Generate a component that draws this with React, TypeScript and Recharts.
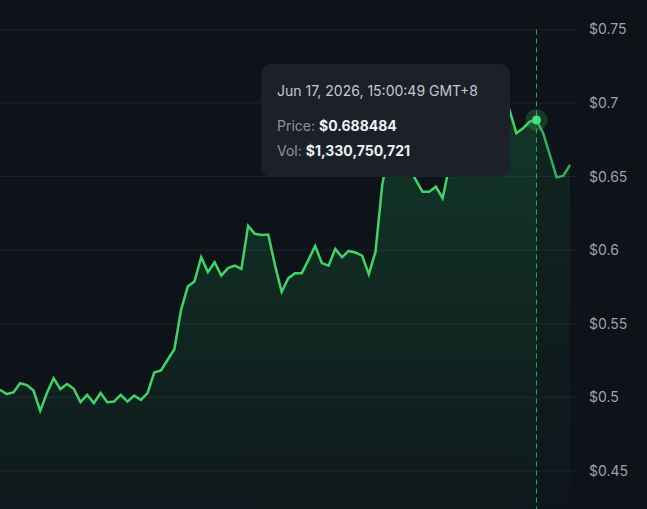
import { Area, AreaChart, CartesianGrid, Tooltip, XAxis, YAxis } from 'recharts'

// price per sample (hidden points under the tooltip are estimates)
const prices = [
  0.5051, 0.5022, 0.5033, 0.5096, 0.5083, 0.5046, 0.4908, 0.5029, 0.513, 0.5056,
  0.509, 0.5058, 0.4967, 0.5017, 0.4961, 0.5029, 0.4967, 0.4971, 0.5017, 0.4971,
  0.5012, 0.4983, 0.5029, 0.5168, 0.5182, 0.5255, 0.5327, 0.5594, 0.5753, 0.5787,
  0.5952, 0.5851, 0.5918, 0.5827, 0.5878, 0.5895, 0.5873, 0.6165, 0.6111, 0.6104,
  0.6106, 0.59, 0.5717, 0.581, 0.5844, 0.5844, 0.5934, 0.6029, 0.5912, 0.5895,
  0.6009, 0.5952, 0.5995, 0.5984, 0.5963, 0.5837, 0.599, 0.6444, 0.668, 0.672,
  0.663, 0.657, 0.6478, 0.6398, 0.6398, 0.6432, 0.6353, 0.657, 0.668, 0.675,
  0.671, 0.68, 0.684, 0.69, 0.686, 0.692, 0.695, 0.6795, 0.6829, 0.6874,
  0.688484, 0.6795, 0.6647, 0.6496, 0.6505, 0.658,
]

const hoverIndex = 80
const hoverTime = 'Jun 17, 2026, 15:00:49 GMT+8'
const hoverVolume = 1330750721
const yTicks = [0.45, 0.5, 0.55, 0.6, 0.65, 0.7, 0.75]

const data = prices.map((p, i) => ({
  i,
  price: p,
  past: i <= hoverIndex ? p : null,
  future: i >= hoverIndex ? p : null,
}))

const PriceTooltip = ({ payload }: any) => {
  const row = payload && payload.length ? payload[0].payload : data[hoverIndex]
  return (
    <div
      style={{
        width: 249,
        height: 113,
        boxSizing: 'border-box',
        background: '#1b2029',
        borderRadius: 10,
        padding: '16px 16px',
        fontFamily: 'Inter, sans-serif',
        fontSize: 14,
        lineHeight: '20px',
      }}
    >
      <div style={{ color: '#c3c9d1', marginTop: 1 }}>{hoverTime}</div>
      <div style={{ marginTop: 15, color: '#8c95a0' }}>
        Price: <b style={{ color: '#eef1f4', fontWeight: 700 }}>${row.price}</b>
      </div>
      <div style={{ marginTop: 5, color: '#8c95a0' }}>
        Vol: <b style={{ color: '#eef1f4', fontWeight: 700 }}>${hoverVolume.toLocaleString('en-US')}</b>
      </div>
    </div>
  )
}

const HoverDot = (props: any) => {
  const { cx, cy } = props
  if (cx == null || cy == null) return null
  return (
    <g>
      <circle cx={cx} cy={cy} r={11} fill="#3ecf65" fillOpacity={0.22} />
      <circle cx={cx} cy={cy} r={4.5} fill="#4ade80" />
    </g>
  )
}

export default function App() {
  return (
    <div
      style={{
        position: 'fixed',
        left: 0,
        top: 0,
        width: 647,
        height: 509,
        overflow: 'hidden',
        background: '#0e1219',
        fontFamily: 'Inter, sans-serif',
      }}
    >
      <AreaChart width={647} height={515} data={data} margin={{ top: 29.5, right: 0, bottom: 0, left: 0 }}>
        <defs>
          <linearGradient id="pastFill" x1="0" y1="0" x2="0" y2="1">
            <stop offset="0%" stopColor="#22c55e" stopOpacity={0.34} />
            <stop offset="100%" stopColor="#22c55e" stopOpacity={0.05} />
          </linearGradient>
          <linearGradient id="futureFill" x1="0" y1="0" x2="0" y2="1">
            <stop offset="0%" stopColor="#22c55e" stopOpacity={0.18} />
            <stop offset="100%" stopColor="#22c55e" stopOpacity={0.03} />
          </linearGradient>
        </defs>
        <CartesianGrid vertical={false} stroke="#1d232b" />
        <XAxis dataKey="i" hide padding={{ left: 0, right: 6 }} />
        <YAxis
          orientation="right"
          width={71}
          domain={[0.42, 0.75]}
          ticks={yTicks}
          axisLine={false}
          tickLine={false}
          tickMargin={7}
          tick={{ fill: '#9aa2ac', fontSize: 14, textAnchor: 'start' }}
          tickFormatter={(v: number) => `$${v}`}
        />
        <Tooltip
          defaultIndex={hoverIndex}
          active
          isAnimationActive={false}
          position={{ x: 261, y: 64 }}
          allowEscapeViewBox={{ x: true, y: true }}
          cursor={{ stroke: '#26b050', strokeWidth: 1, strokeDasharray: '5 4' }}
          content={<PriceTooltip />}
        />
        <Area
          type="linear"
          dataKey="future"
          stroke="#35ad5a"
          strokeWidth={2.5}
          fill="url(#futureFill)"
          dot={false}
          activeDot={false}
          isAnimationActive={false}
        />
        <Area
          type="linear"
          dataKey="past"
          stroke="#3ed466"
          strokeWidth={2.5}
          fill="url(#pastFill)"
          dot={false}
          activeDot={<HoverDot />}
          isAnimationActive={false}
        />
      </AreaChart>
    </div>
  )
}
